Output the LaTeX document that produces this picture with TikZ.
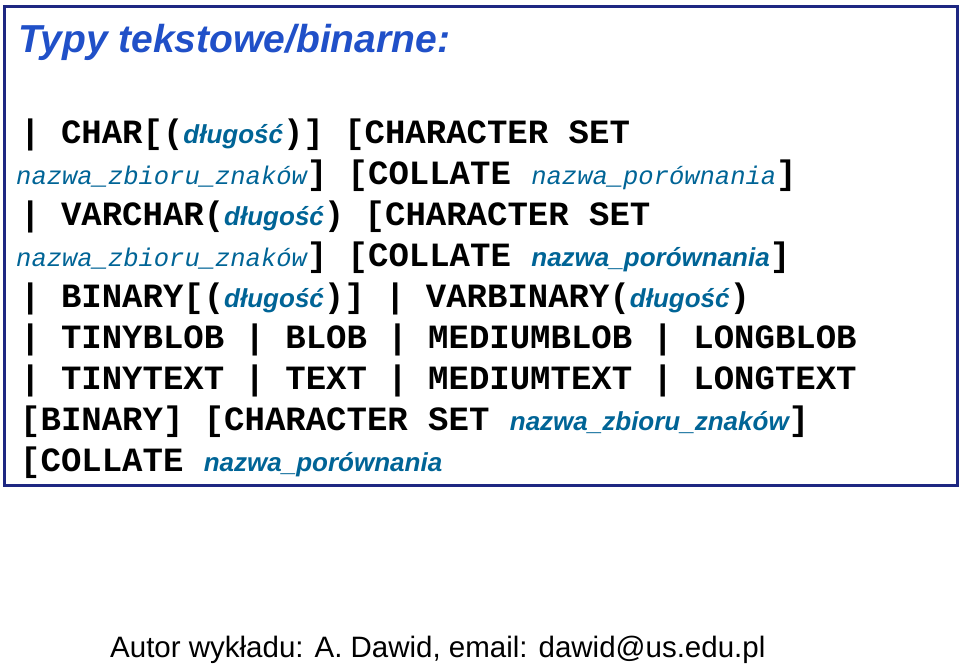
\documentclass[tikz,border=0pt]{standalone}
\usepackage{fontspec}
\setmainfont{Liberation Sans}
\newfontfamily\cmono{Liberation Mono}
\definecolor{ttl}{RGB}{32,80,200}
\definecolor{ita}{RGB}{0,100,150}
\definecolor{frame}{RGB}{30,40,130}
\newcommand{\M}[1]{{\cmono\bfseries\fontsize{34}{34}\selectfont #1}}
\newcommand{\I}[1]{{\color{ita}\bfseries\itshape\fontsize{26}{26}\selectfont #1}}
\newcommand{\IM}[1]{{\color{ita}\cmono\itshape\fontsize{25.5}{25.5}\selectfont #1}}
\begin{document}
\begin{tikzpicture}[x=1pt,y=-1pt,ln/.style={anchor=base west,inner sep=0pt}]
\useasboundingbox (0,0) rectangle (960,664);
\draw[frame,line width=3pt] (4,6) rectangle (957,485);
\node[ln,text=ttl,font=\bfseries\itshape\fontsize{39}{39}\selectfont] (t) at (18,52) {Typy tekstowe/binarne:};
\node[ln] (l1) at (20,143) {\M{| CHAR[(}\I{długość}\M{)] [CHARACTER SET}};
\node[ln] (l2) at (16,184) {\IM{nazwa\_zbioru\_znaków}\M{] [COLLATE }\IM{nazwa\_porównania}\M{]}};
\node[ln] (l3) at (20,225) {\M{| VARCHAR(}\I{długość}\M{) [CHARACTER SET}};
\node[ln] (l4) at (16,266) {\IM{nazwa\_zbioru\_znaków}\M{] [COLLATE }\I{nazwa\_porównania}\M{]}};
\node[ln] (l5) at (20,307) {\M{| BINARY[(}\I{długość}\M{)] | VARBINARY(}\I{długość}\M{)}};
\node[ln] (l6) at (20,348) {\M{| TINYBLOB | BLOB | MEDIUMBLOB | LONGBLOB}};
\node[ln] (l7) at (20,389) {\M{| TINYTEXT | TEXT | MEDIUMTEXT | LONGTEXT}};
\node[ln] (l8) at (20,430) {\M{[BINARY] [CHARACTER SET }\I{nazwa\_zbioru\_znaków}\M{]}};
\node[ln] (l9) at (20,471) {\M{[COLLATE }\I{nazwa\_porównania}};
\node[ln,font=\fontsize{29.5}{29.5}\selectfont] (f) at (110,657) {Autor wykładu: A. Dawid, email: dawid@us.edu.pl};
\end{tikzpicture}
\end{document}
